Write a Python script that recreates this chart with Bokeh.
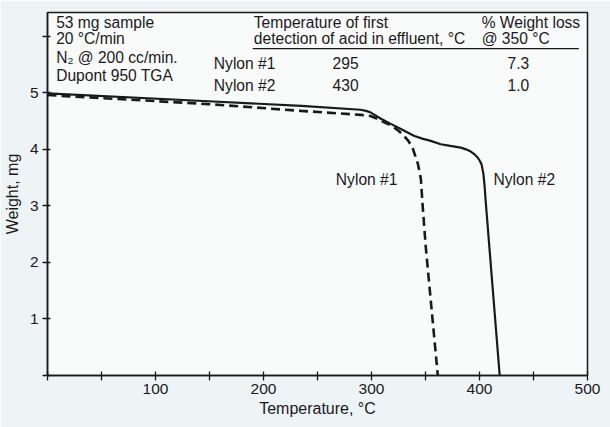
from bokeh.plotting import figure
from bokeh.models import Range1d, FixedTicker, Label
from bokeh.embed import file_html
from bokeh.resources import INLINE

# ---- data ----
temp_nylon1 = [0, 149, 235, 290, 299, 305.5, 311.5, 316.5, 320.7, 325.5, 330, 334.5, 338.3,
               342.9, 345.7, 347.5, 350.3, 361.4]
weight_nylon1 = [4.96, 4.80, 4.68, 4.61, 4.59, 4.54, 4.48, 4.44, 4.39, 4.32, 4.24, 4.14, 4.01,
                 3.75, 3.48, 2.97, 2.26, 0.0]

temp_nylon2 = [0, 149, 235, 290, 295, 299.4, 308.7, 317.9, 327.2, 339.2, 347, 354.9, 364.1,
               373, 382.6, 387.5, 391.9, 395.5, 398.1, 400.2, 401.8, 403.6, 404.8, 405.7, 409.4, 418.7]
weight_nylon2 = [4.99, 4.85, 4.77, 4.70, 4.68, 4.65, 4.54, 4.45, 4.36, 4.24, 4.19, 4.15, 4.09,
                 4.06, 4.03, 4.00, 3.96, 3.91, 3.86, 3.80, 3.74, 3.57, 3.33, 3.09, 2.21, 0.0]

x_ticks = [0, 50, 100, 150, 200, 250, 300, 350, 400, 450, 500]
x_labelled = [100, 200, 300, 400, 500]
y_ticks = [0, 1, 2, 3, 4, 5, 6]
y_labelled = [1, 2, 3, 4, 5]

info_lines = ["53 mg sample", "20 \u00b0C/min", "N\u2082 @ 200 cc/min.", "Dupont 950 TGA"]
header_col1 = ["Temperature of first", "detection of acid in effluent, \u00b0C"]
header_col2 = ["% Weight loss", "@ 350 \u00b0C"]
samples = ["Nylon #1", "Nylon #2"]
acid_temp = ["295", "430"]
weight_loss = ["7.3", "1.0"]

FONT = "Liberation Sans"
INK = "#1a1a1a"

p = figure(width=610, height=427, output_backend="svg", toolbar_location=None,
           x_range=Range1d(0, 500), y_range=Range1d(0, 6.42),
           min_border_left=46, min_border_right=23, min_border_top=12, min_border_bottom=52)

p.background_fill_color = "#f9fafa"
p.border_fill_color = "#eef3f6"
p.outline_line_color = INK
p.outline_line_width = 1.5
p.grid.visible = False

p.line(temp_nylon2, weight_nylon2, line_color=INK, line_width=2.2)
p.line(temp_nylon1, weight_nylon1, line_color=INK, line_width=2.6, line_dash="9 5")

xa = p.xaxis[0]
xa.ticker = FixedTicker(ticks=x_ticks)
xa.major_label_overrides = {t: ("" if t not in x_labelled else str(t)) for t in x_ticks}
xa.axis_label = "Temperature, \u00b0C"
ya = p.yaxis[0]
ya.ticker = FixedTicker(ticks=y_ticks)
ya.major_label_overrides = {t: ("" if t not in y_labelled else str(t)) for t in y_ticks}
ya.axis_label = "Weight, mg"

for ax in (xa, ya):
    ax.axis_line_color = INK
    ax.axis_line_width = 1.5
    ax.major_tick_line_color = INK
    ax.major_tick_line_width = 1.3
    ax.minor_tick_line_color = None
    ax.major_label_text_font = FONT
    ax.major_label_text_font_size = "15.5px"
    ax.major_label_text_color = INK
    ax.axis_label_text_font = FONT
    ax.axis_label_text_font_size = "16px"
    ax.axis_label_text_font_style = "normal"
    ax.axis_label_text_color = INK

xa.major_tick_in = 4
xa.major_tick_out = 5
xa.major_label_standoff = 3
xa.axis_label_standoff = 3
ya.major_tick_in = 3
ya.major_tick_out = 5
ya.major_label_standoff = 4
ya.axis_label_standoff = 6


def add_text(x, y, s, align="left"):
    p.add_layout(Label(x=x, y=y, text=s, text_font=FONT, text_font_size="15.6px",
                       text_color=INK, text_align=align, text_baseline="alphabetic"))


rows_y = [6.25, 5.96, 5.63, 5.30]
for yy, s in zip(rows_y, info_lines):
    add_text(8, yy, s)
for yy, s in zip(rows_y[:2], header_col1):
    add_text(191, yy, s)
for yy, s in zip(rows_y[:2], header_col2):
    add_text(402, yy, s)

sample_y = [5.52, 5.13]
for yy, n, a, w in zip(sample_y, samples, acid_temp, weight_loss):
    add_text(154, yy, n)
    add_text(264, yy, a)
    add_text(436, yy, w, align="center")

p.segment(x0=[190], y0=[5.78], x1=[492], y1=[5.78], line_color=INK, line_width=1.3)

add_text(267, 3.46, "Nylon #1")
add_text(413, 3.46, "Nylon #2")

open("out.html", "w").write(file_html(p, INLINE))
